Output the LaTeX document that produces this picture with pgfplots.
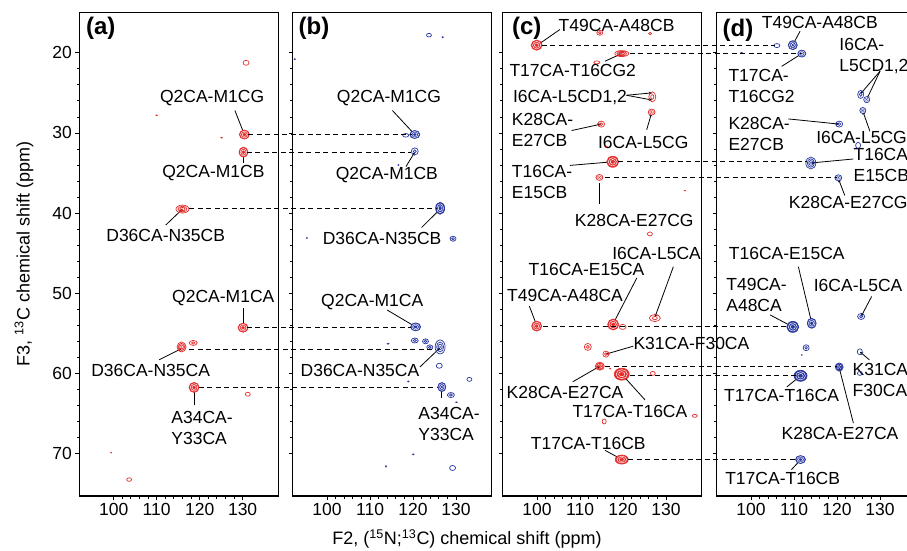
\documentclass[border=0pt]{standalone}
\usepackage{fontspec}
\setmainfont{Liberation Sans}
\usepackage{pgfplots}
\pgfplotsset{compat=1.18}
\usetikzlibrary{arrows.meta}
\definecolor{cred}{RGB}{228,45,45}
\definecolor{cblue}{RGB}{40,55,160}
\newcommand\lf{\fontsize{17.5}{21}\selectfont}

% concentric-contour peak mark: radii from \pkrx,\pkry (pt), style from \pkn
\newcommand\pkell[1]{\pgfpathellipse{\pgfpointorigin}%
  {\pgfqpoint{#1\dimexpr\pkrx pt\relax}{0pt}}{\pgfqpoint{0pt}{#1\dimexpr\pkry pt\relax}}}
\pgfdeclareplotmark{pk}{%
  \pgfsetlinewidth{0.7pt}%
  \ifcase\pkn\relax
  \or
    \pkell{1}\pgfusepath{stroke}%
  \or
    \pkell{1}\pkell{0.45}\pgfusepath{stroke}%
  \or
    \pkell{1}\pkell{0.7}\pkell{0.4}\pgfusepath{stroke}%
    \pkell{0.15}\pgfusepath{fill}%
  \or
    \pkell{1}\pgfusepath{fill,stroke}%
    \pgfscope\pgfsetstrokecolor{white}\pgfsetlinewidth{0.45pt}%
     \pkell{0.75}\pkell{0.42}\pgfusepath{stroke}%
    \endpgfscope
  \or
    \pkell{1}\pgfusepath{fill}%
  \fi
}

\pgfplotsset{
  nmr/.style={width=199pt, height=483.3pt, scale only axis,
    xmin=92, xmax=138.3, ymin=15, ymax=75.3, y dir=reverse,
    xtick={100,110,120,130}, ytick={20,30,...,70},
    minor x tick num=4, minor y tick num=4,
    xtick pos=left, ytick pos=left, tick align=outside,
    major tick length=4pt, minor tick length=2.5pt,
    axis line style={line width=1.3pt},
    every tick/.style={black, line width=0.8pt},
    tick label style={font=\lf},
    /pgf/number format/assume math mode=true,
    clip=false, anchor=north west},
  pk/.style={only marks, mark=pk,
    visualization depends on={value \thisrow{rx}\as\pkrx},
    visualization depends on={value \thisrow{ry}\as\pkry},
    visualization depends on={value \thisrow{n}\as\pkn}}
}
\tikzset{
  lbl/.style={font=\lf, inner sep=0pt, align=center},
  lbll/.style={font=\lf, inner sep=0pt, align=left, anchor=west},
  ldr/.style={black, line width=0.8pt, -{Stealth[length=3.5pt,width=3pt]}},
  plab/.style={font=\fontsize{24}{26}\selectfont\bfseries, inner sep=0pt}
}
\newcommand\ld[4]{\draw[ldr] (axis cs:#1,#2) -- (axis cs:#3,#4);}

\begin{document}
\begin{tikzpicture}
% ---------------- panel (a)
\begin{axis}[nmr, at={(79.3pt,-12.7pt)}]
\addplot[pk, color=cred] table {
x y rx ry n
130.8 21.25 3 2.5 1
110.0 27.8 1.5 0.8 5
125.1 30.6 1.5 0.8 5
130.4 30.2 5 4.5 4
130.2 32.4 4.5 5 4
116.0 39.5 6.5 4 3
130.1 54.3 5 4.5 4
115.8 56.7 4.5 5 3
118.5 56.2 4 2.5 2
118.7 61.75 5 5 4
131.2 62.6 2.5 2 1
99.4 69.9 1 0.8 5
103.6 73.25 2.5 1.8 1
};
\node[plab] at (axis cs:97,17.0) {(a)};
\node[lbl] at (axis cs:122.9,25.7) {Q2CA-M1CG};
\ld{128.2}{27.2}{130.4}{30.2}
\node[lbl] at (axis cs:123.2,35.05) {Q2CA-M1CB};
\ld{130.2}{33.7}{130.2}{32.5}
\node[lbl] at (axis cs:112.1,42.8) {D36CA-N35CB};
\ld{112.1}{41.5}{116}{39.5}
\node[lbl] at (axis cs:125.5,50.6) {Q2CA-M1CA};
\ld{130.1}{51.8}{130.1}{54.2}
\node[lbl] at (axis cs:108.6,59.6) {D36CA-N35CA};
\ld{110.6}{58.3}{115.8}{56.9}
\node[lbll] at (axis cs:113.4,66.75) {A34CA-\\Y33CA};
\ld{118.7}{64.0}{118.7}{61.9}
\coordinate (a1) at (axis cs:131.3,30.2);
\coordinate (a2) at (axis cs:131.0,32.4);
\coordinate (a3) at (axis cs:117.6,39.45);
\coordinate (a4) at (axis cs:131.0,54.3);
\coordinate (a5) at (axis cs:117.6,57.0);
\coordinate (a6) at (axis cs:119.8,61.75);
\end{axis}
% ---------------- panel (b)
\begin{axis}[nmr, at={(292.7pt,-12.7pt)}, yticklabels={}]
\addplot[pk, color=cblue] table {
x y rx ry n
123.7 17.8 2.5 1.8 1
126.9 18.05 1.2 1 5
95.6 15.8 1.2 1 5
92.5 20.8 1.2 1 5
118.3 30.3 3 1.8 1
120.4 30.2 5 4 4
120.4 32.3 3.5 3.5 2
116.6 34.0 1 1 5
126.3 39.4 4.5 6 4
129.3 43.2 3 2.5 2
95.3 43.1 1 1 5
120.6 54.2 5 4 4
120.4 55.9 3.5 2.5 2
122.9 56.0 3 2.5 2
123.9 56.75 3 2.5 2
126.3 56.7 5 7 3
126.1 59.05 3 2.5 1
118.9 61.0 1.2 1 5
114.2 56.3 1.5 1 5
133.1 60.75 2.5 2 1
126.7 61.7 4 4.5 4
128.8 62.7 3.5 2.5 2
130.1 63.6 1.5 0.8 5
120.05 70.1 1.3 1 5
113.7 71.6 1 1.3 5
129.2 71.8 3 2.5 1
};
\node[plab] at (axis cs:96.95,17.0) {(b)};
\node[lbl] at (axis cs:114.4,25.7) {Q2CA-M1CG};
\ld{115.2}{27.2}{120.4}{30.2}
\node[lbl] at (axis cs:113.9,35.2) {Q2CA-M1CB};
\ld{118.35}{34.2}{120.4}{32.4}
\node[lbl] at (axis cs:112.8,43.2) {D36CA-N35CB};
\ld{122}{41.8}{126.3}{39.5}
\node[lbl] at (axis cs:110.5,51.05) {Q2CA-M1CA};
\ld{114}{52.1}{120.6}{54.2}
\node[lbl] at (axis cs:107.65,59.6) {D36CA-N35CA};
\ld{121.6}{59.2}{126.3}{56.8}
\node[lbll] at (axis cs:121.2,66.35) {A34CA-\\Y33CA};
\ld{126.7}{63.1}{126.7}{61.8}
\coordinate (b1) at (axis cs:119.7,30.2);
\coordinate (b2) at (axis cs:119.5,32.4);
\coordinate (b3) at (axis cs:125.5,39.45);
\coordinate (b4) at (axis cs:119.5,54.3);
\coordinate (b5) at (axis cs:124.7,57.0);
\coordinate (b6) at (axis cs:125.9,61.75);
\end{axis}
% ---------------- panel (c)
\begin{axis}[nmr, at={(502.7pt,-12.7pt)}, yticklabels={}]
\addplot[pk, color=cred] table {
x y rx ry n
99.9 19.05 5.5 5 4
114.6 17.5 3 2.5 2
126.3 17.6 1.5 1.2 1
119.7 20.1 7 3 3
113.9 21.2 3 1.5 1
126.8 25.5 3.5 5 2
126.65 27.4 3.5 3 4
114.9 28.9 3.5 3 2
116.2 31.7 1 1 5
117.6 33.6 6 5.5 4
114.5 35.55 3.5 3 4
134.4 37.2 1.2 0.8 5
126.25 42.6 2.5 2 1
99.9 54.1 5 5 4
119.9 54.2 3.5 2.5 1
117.7 53.9 5.5 5.5 4
127.4 53.1 5.5 3.5 2
111.8 56.7 3.5 3.5 2
116.0 57.6 3 3 2
114.6 59.1 4.5 4 3
117.0 59.4 1 1 5
119.7 60.1 7.5 6 4
126.9 60.0 2.5 2 1
136.7 65.3 2.5 1.5 1
115.6 66.0 2 2.5 1
119.7 70.75 6.5 4.5 4
};
\node[plab] at (axis cs:97.6,17.0) {(c)};
\node[lbl] at (axis cs:118.5,16.6) {T49CA-A48CB};
\ld{105.3}{17.1}{100.2}{19.0}
\node[lbl] at (axis cs:108.3,22.2) {T17CA-T16CG2};
\ld{115.8}{21.05}{119.7}{20.1}
\node[lbl] at (axis cs:107.65,25.6) {I6CA-L5CD1,2};
\ld{120.8}{25.3}{126.8}{25.0}
\ld{120.8}{25.3}{126.8}{25.9}
\node[lbll] at (axis cs:94.1,29.6) {K28CA-\\E27CB};
\ld{108.05}{29.7}{114.9}{28.9}
\node[lbl] at (axis cs:124.7,31.2) {I6CA-L5CG};
\ld{125.5}{29.6}{126.65}{27.5}
\node[lbll] at (axis cs:94.1,36.1) {T16CA-\\E15CB};
\ld{107.65}{34.05}{117.6}{33.6}
\node[lbl] at (axis cs:122.6,40.96) {K28CA-E27CG};
\draw[black, line width=0.8pt] (axis cs:114.5,36.3) -- (axis cs:114.5,38.9);
\node[lbl] at (axis cs:127.8,45.0) {I6CA-L5CA};
\ld{131.7}{46.7}{127.4}{53.0}
\node[lbl] at (axis cs:111.5,47.0) {T16CA-E15CA};
\ld{123.2}{48.1}{117.7}{53.8}
\node[lbl] at (axis cs:106.5,50.3) {T49CA-A48CA};
\ld{98.2}{51.6}{99.9}{54.0}
\node[lbll] at (axis cs:122.4,56.3) {K31CA-F30CA};
\ld{122.4}{56.6}{116.0}{57.6}
\node[lbl] at (axis cs:106.5,62.4) {K28CA-E27CA};
\ld{108.3}{61.05}{114.6}{59.1}
\node[lbl] at (axis cs:121.6,64.8) {T17CA-T16CA};
\ld{125.1}{63.3}{119.7}{60.1}
\node[lbl] at (axis cs:111.9,68.7) {T17CA-T16CB};
\ld{115.8}{69.6}{119.6}{70.7}
\coordinate (c1) at (axis cs:101.1,19.05);
\coordinate (c2) at (axis cs:121.6,20.1);
\coordinate (c3) at (axis cs:118.9,33.6);
\coordinate (c4) at (axis cs:115.8,35.55);
\coordinate (c5) at (axis cs:101.4,54.1);
\coordinate (c6) at (axis cs:115.8,59.1);
\coordinate (c7) at (axis cs:121.6,60.3);
\coordinate (c8) at (axis cs:121.2,70.75);
\end{axis}
% ---------------- panel (d)
\begin{axis}[nmr, at={(716.7pt,-12.7pt)}, yticklabels={}]
\addplot[pk, color=cblue] table {
x y rx ry n
109.7 19.05 4.5 4.5 4
106.0 19.1 3 2 1
111.8 20.1 4 3.5 4
97.8 20.0 1.5 0.8 5
125.5 25.2 3 4 2
126.9 25.85 3 3 4
126.0 27.2 3 3 4
120.5 28.9 3.5 3 2
124.9 31.55 2.5 3 1
113.9 33.75 5 6 3
120.3 35.6 3.5 3 4
109.7 54.2 6 5.5 4
114.1 53.75 4.5 5 4
125.6 52.9 3.5 3 2
112.8 56.8 3 3 2
111.8 57.7 0.8 1 5
125.3 57.3 2.5 3 1
125.3 60.0 2.5 2 1
120.5 59.2 4 4 3
111.5 60.3 6.5 5.5 4
111.5 70.75 5 4 4
};
\node[plab] at (axis cs:96.95,17.2) {(d)};
\node[lbl] at (axis cs:116,16.25) {T49CA-A48CB};
\ld{111.4}{17.3}{109.7}{19.0}
\node[lbll] at (axis cs:94.7,24.2) {T17CA-\\T16CG2};
\ld{107.1}{21.7}{111.8}{20.1}
\node[lbll] at (axis cs:120.5,20.35) {I6CA-\\L5CD1,2};
\ld{130}{22.3}{125.5}{25.1}
\ld{130}{22.3}{126.9}{25.8}
\node[lbll] at (axis cs:94.7,30.15) {K28CA-\\E27CB};
\ld{108.65}{28.25}{120.5}{28.9}
\node[lbl] at (axis cs:125.7,30.6) {I6CA-L5CG};
\ld{127.65}{29.8}{126.0}{27.3}
\node[lbll] at (axis cs:123.8,34.0) {T16CA-\\E15CB};
\ld{123.8}{33.25}{113.9}{33.75}
\node[lbl] at (axis cs:122.6,38.7) {K28CA-E27CG};
\ld{121.8}{37.8}{120.3}{35.7}
\node[lbl] at (axis cs:108.3,45.1) {T16CA-E15CA};
\ld{111}{46.7}{114.1}{53.7}
\node[lbll] at (axis cs:94.2,50.2) {T49CA-\\A48CA};
\ld{104.4}{52.7}{109.7}{54.2}
\node[lbl] at (axis cs:124.9,49.0) {I6CA-L5CA};
\ld{128.05}{50.4}{125.6}{52.9}
\node[lbll] at (axis cs:123.6,60.8) {K31CA-\\F30CA};
\ld{127.5}{58.3}{125.3}{57.3}
\node[lbl] at (axis cs:107.1,62.7) {T17CA-T16CA};
\ld{108.3}{61.7}{111.5}{60.3}
\node[lbl] at (axis cs:120.7,67.5) {K28CA-E27CA};
\ld{123.8}{66.2}{120.5}{59.3}
\node[lbl] at (axis cs:107.35,73.1) {T17CA-T16CB};
\ld{109.4}{72}{111.5}{70.8}
\coordinate (d1) at (axis cs:105.6,19.05);
\coordinate (d2) at (axis cs:111.4,20.1);
\coordinate (d3) at (axis cs:112.9,33.6);
\coordinate (d4) at (axis cs:119.9,35.55);
\coordinate (d5) at (axis cs:108.65,54.1);
\coordinate (d6) at (axis cs:119.9,59.1);
\coordinate (d7) at (axis cs:110.6,60.3);
\coordinate (d8) at (axis cs:110.6,70.75);
\end{axis}
% ---------------- connectors
\begin{scope}[black, line width=0.9pt, dash pattern=on 5pt off 3.5pt]
\foreach \i in {1,...,6} {\draw (a\i) -- (b\i);}
\foreach \i in {1,...,8} {\draw (c\i) -- (d\i);}
\end{scope}
% ---------------- axis titles
\node[rotate=90, font=\fontsize{18}{20}\selectfont] at (24pt,-254pt) {F3, \textsuperscript{13}C chemical shift (ppm)};
\node[font=\fontsize{18}{20}\selectfont] at (467pt,-539pt) {F2, (\textsuperscript{15}N;\textsuperscript{13}C) chemical shift (ppm)};
\pgfresetboundingbox
\useasboundingbox (0pt,0pt) rectangle (907pt,-551pt);
\end{tikzpicture}
\end{document}
